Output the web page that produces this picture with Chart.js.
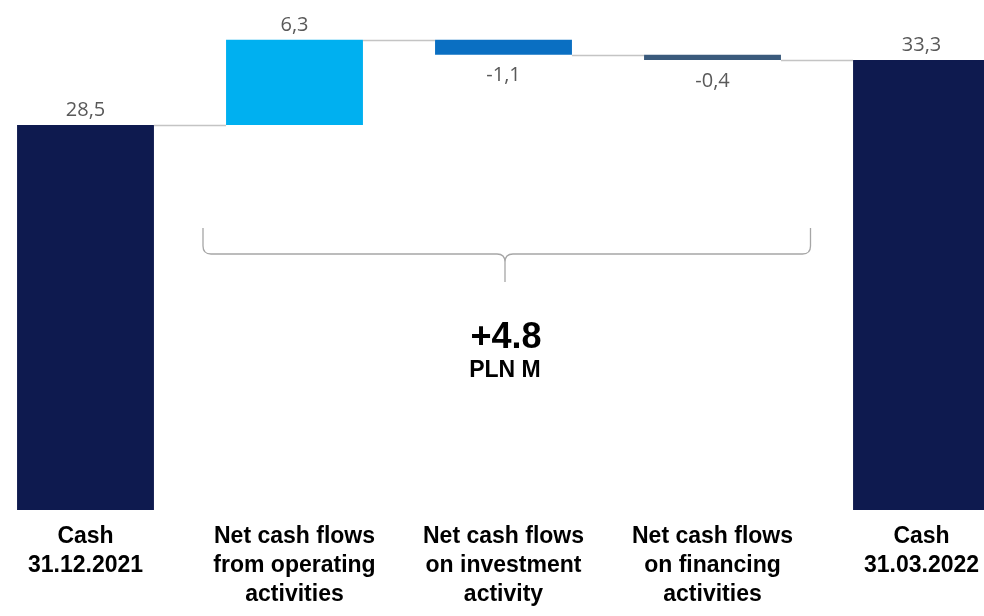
<!DOCTYPE html>
<html>
<head>
<meta charset="utf-8">
<script src="https://cdn.jsdelivr.net/npm/chart.js@4.4.1/dist/chart.umd.min.js"></script>
<style>
  html, body { margin: 0; padding: 0; background: #fff; overflow: hidden; width: 984px; height: 616px; }
  #wrap { position: absolute; left: -19px; top: 0; width: 1045px; height: 616px; }
</style>
</head>
<body>
<div id="wrap"><canvas id="c" width="1045" height="616"></canvas></div>
<script>
// Cash bridge, PLN M
const categories = [
  ["Cash", "31.12.2021"],
  ["Net cash flows", "from operating", "activities"],
  ["Net cash flows", "on investment", "activity"],
  ["Net cash flows", "on financing", "activities"],
  ["Cash", "31.03.2022"]
];
const values  = [28.5, 6.3, -1.1, -0.4, 33.3];
const isTotal = [true, false, false, false, true];
const barColors = ["#0e1a4f", "#00b0f0", "#0a6fc2", "#3a5a7c", "#0e1a4f"];
const unitLabel = "PLN M";

// floating ranges for the waterfall
let running = 0;
const ranges = values.map((v, i) => {
  if (isTotal[i]) { running = v; return [0, v]; }
  const start = running;
  running += v;
  return [start, running];
});
const netChange = values.filter((v, i) => !isTotal[i]).reduce((a, b) => a + b, 0);

const fmtComma = v => v.toFixed(1).replace(".", ",");

const overlay = {
  id: "overlay",
  afterDatasetsDraw(chart) {
    const ctx = chart.ctx;
    const meta = chart.getDatasetMeta(0);
    const ys = chart.scales.y, xs = chart.scales.x;
    ctx.save();

    // connector lines between bars
    ctx.strokeStyle = "#c4c4c4";
    ctx.lineWidth = 1.5;
    for (let i = 0; i < meta.data.length - 1; i++) {
      const a = meta.data[i], b = meta.data[i + 1];
      const yLevel = Math.round(ys.getPixelForValue(ranges[i][1])) + 0.5;
      ctx.beginPath();
      ctx.moveTo(a.x + a.width / 2, yLevel);
      ctx.lineTo(b.x - b.width / 2, yLevel);
      ctx.stroke();
    }

    // value labels
    ctx.font = "20px 'Open Sans'";
    ctx.fillStyle = "#595959";
    ctx.textAlign = "center";
    ctx.textBaseline = "middle";
    values.forEach((v, i) => {
      const el = meta.data[i];
      const top = ys.getPixelForValue(Math.max(ranges[i][0], ranges[i][1]));
      const bot = ys.getPixelForValue(Math.min(ranges[i][0], ranges[i][1]));
      const y = v >= 0 ? top - 15 : bot + 21;
      ctx.fillText(fmtComma(v), el.x, y);
    });

    // brace over the flow items
    const left = xs.getPixelForValue(1) - 91.5;
    const right = xs.getPixelForValue(3) + 98;
    const mid = xs.getPixelForValue(2) + 1.5;
    const yTop = 228, yLine = 254, yTip = 282, r = 8;
    ctx.strokeStyle = "#a6a6a6";
    ctx.lineWidth = 1.3;
    ctx.beginPath();
    ctx.moveTo(left, yTop);
    ctx.lineTo(left, yLine - r);
    ctx.quadraticCurveTo(left, yLine, left + r, yLine);
    ctx.lineTo(mid - r, yLine);
    ctx.quadraticCurveTo(mid, yLine, mid, yLine + r);
    ctx.lineTo(mid, yTip);
    ctx.moveTo(mid, yLine + r);
    ctx.quadraticCurveTo(mid, yLine, mid + r, yLine);
    ctx.lineTo(right - r, yLine);
    ctx.quadraticCurveTo(right, yLine, right, yLine - r);
    ctx.lineTo(right, yTop);
    ctx.stroke();

    // net change annotation
    ctx.fillStyle = "#000";
    ctx.font = "bold 36px 'Liberation Sans'";
    ctx.fillText((netChange >= 0 ? "+" : "") + netChange.toFixed(1), mid + 1, 338);
    ctx.font = "bold 23px 'Liberation Sans'";
    ctx.fillText(unitLabel, mid, 371);

    ctx.restore();
  }
};

new Chart(document.getElementById("c"), {
  type: "bar",
  data: {
    labels: categories,
    datasets: [{
      data: ranges,
      backgroundColor: barColors,
      borderWidth: 0,
      barPercentage: 0.655,
      categoryPercentage: 1
    }]
  },
  options: {
    responsive: false,
    animation: false,
    layout: { padding: 0 },
    plugins: { legend: { display: false }, tooltip: { enabled: false } },
    scales: {
      x: {
        grid: { display: false, drawTicks: false },
        border: { display: false },
        ticks: {
          color: "#000",
          font: { family: "'Liberation Sans'", weight: "bold", size: 23, lineHeight: 1.26 },
          padding: 12,
          maxRotation: 0,
          autoSkip: false
        },
        afterFit(scale) { scale.height = 106; }
      },
      y: { display: false, min: 0, max: 37.75 }
    }
  },
  plugins: [overlay]
});
</script>
</body>
</html>
